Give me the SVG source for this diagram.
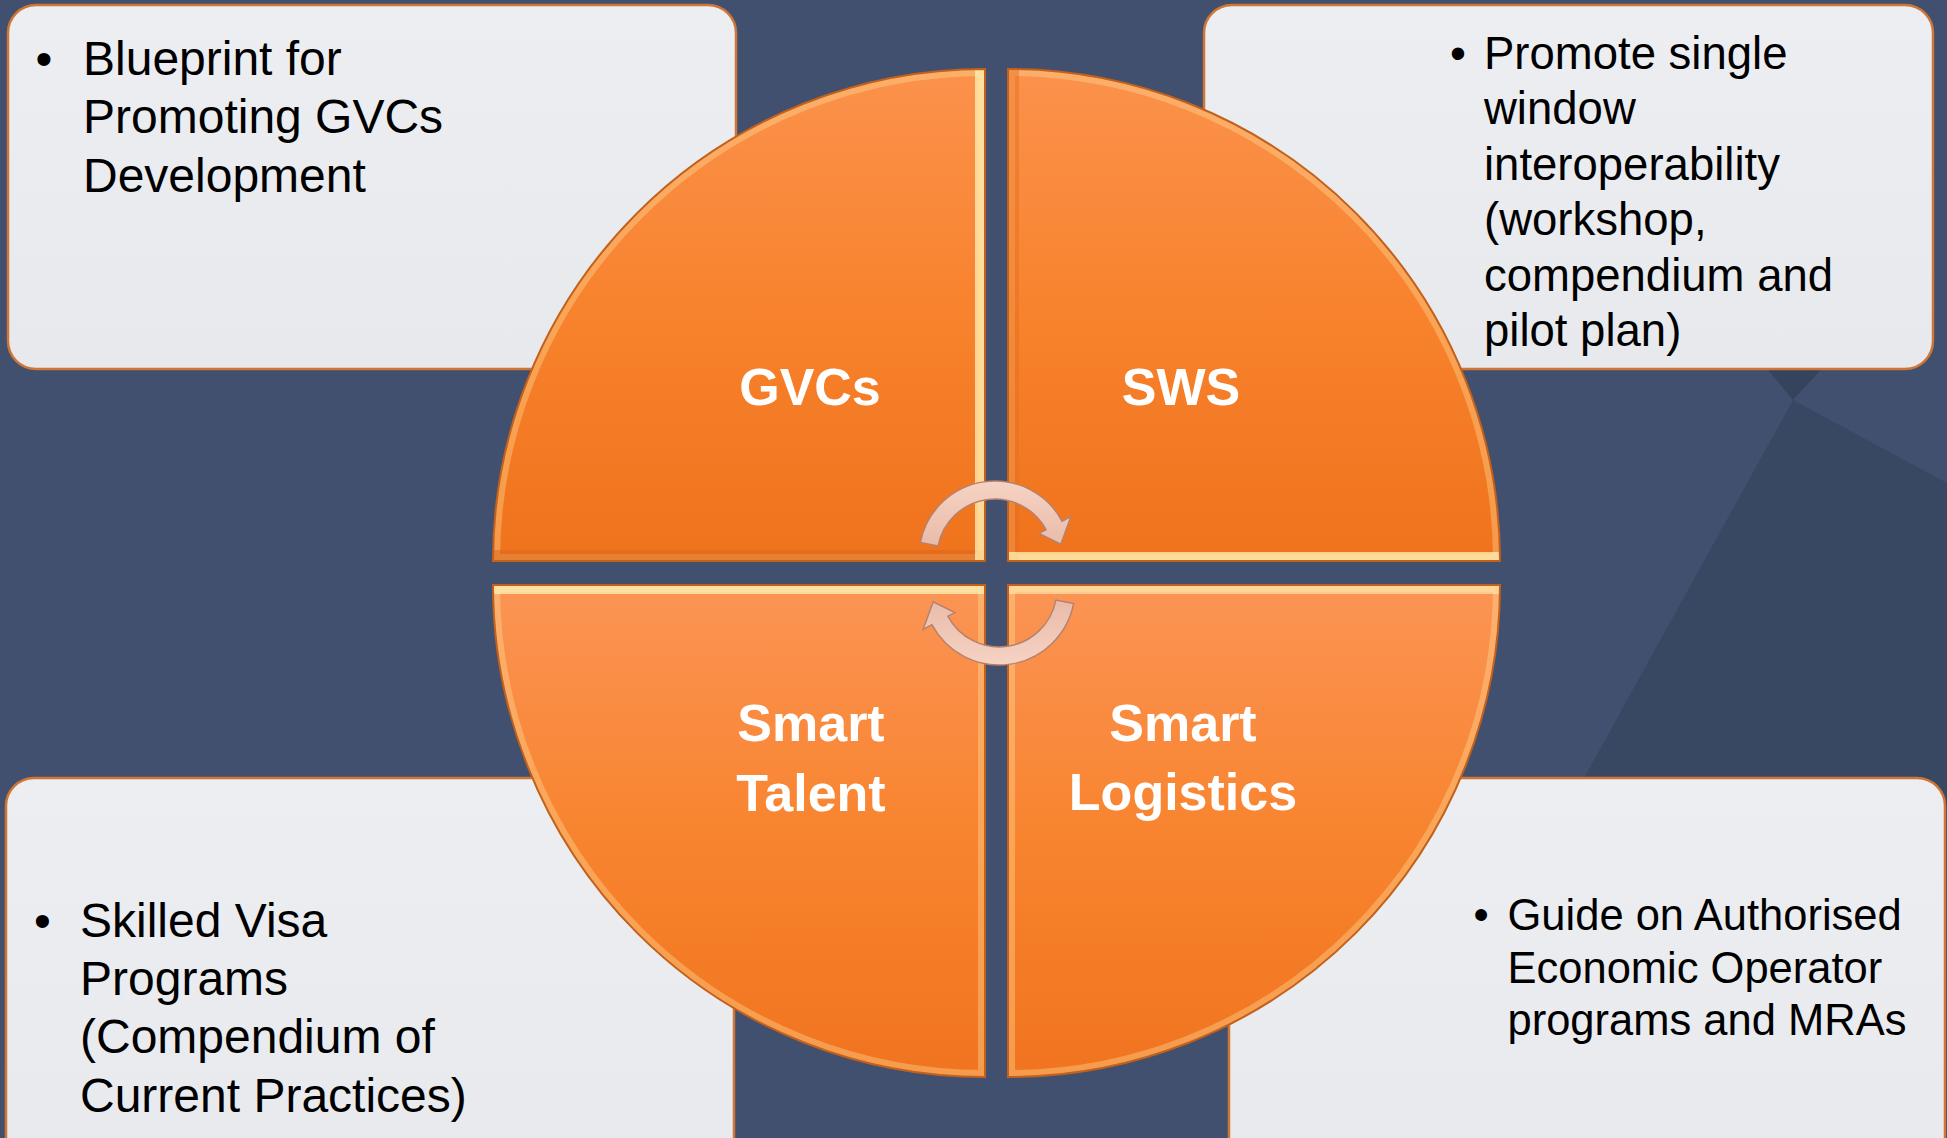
<svg xmlns="http://www.w3.org/2000/svg" width="1947" height="1138" viewBox="0 0 1947 1138">
<style>
.body{font-family:"Liberation Sans",Arial,sans-serif;fill:#000}
.lbl{font-family:"Liberation Sans",Arial,sans-serif;font-weight:bold;fill:#fff;text-anchor:middle;font-size:52px}
.box{fill:url(#gBox);stroke:#cf7536;stroke-width:2.5}
.edge{fill:none;stroke:#c2601c;stroke-width:2}
.hl{fill:none;stroke:#ffe4a4;stroke-width:14;opacity:0.35}
.arrow{fill:url(#gArr);stroke:#b4816f;stroke-width:1.4}
</style>
<defs>
<linearGradient id="gBox" x1="0" y1="0" x2="0" y2="1">
<stop offset="0" stop-color="#eceef1"/>
<stop offset="1" stop-color="#e7e9ed"/>
</linearGradient>
<linearGradient id="gTop" x1="0" y1="0" x2="0" y2="1">
<stop offset="0" stop-color="#fb924c"/>
<stop offset="0.5" stop-color="#f8822d"/>
<stop offset="1" stop-color="#f0721c"/>
</linearGradient>
<linearGradient id="gBot" x1="0" y1="0" x2="0" y2="1">
<stop offset="0" stop-color="#fb9455"/>
<stop offset="0.5" stop-color="#f8842f"/>
<stop offset="1" stop-color="#f1741f"/>
</linearGradient>
<linearGradient id="gArr" x1="0" y1="0" x2="0" y2="1">
<stop offset="0" stop-color="#f6d3c4"/>
<stop offset="1" stop-color="#e9bba9"/>
</linearGradient>
<path id="qTL" d="M985,561 L493,561 A492,492 0 0 1 985,69 Z"/>
<path id="qTR" d="M1008,561 L1008,69 A492,492 0 0 1 1500,561 Z"/>
<path id="qBL" d="M985,585 L985,1077 A492,492 0 0 1 493,585 Z"/>
<path id="qBR" d="M1008,585 L1500,585 A492,492 0 0 1 1008,1077 Z"/>
<clipPath id="cTL"><use href="#qTL"/></clipPath>
<clipPath id="cTR"><use href="#qTR"/></clipPath>
<clipPath id="cBL"><use href="#qBL"/></clipPath>
<clipPath id="cBR"><use href="#qBR"/></clipPath>
<path id="arr" d="M920.4,542.5 A76,76 0 0 1 1062.1,521.3 L1070.9,516.6 L1060.8,544.2 L1039.1,533.5 L1046.2,529.8 A58,58 0 0 0 938.1,545.9 Z"/>
</defs>

<g id="background">
<rect x="0" y="0" width="1947" height="1138" fill="#41506f"/>
<polygon points="1793,400 1947,483 1947,1138 1385,1138" fill="#394862"/>
<polygon points="1760,360 1830,360 1793,400" fill="#35435c"/>
</g>

<g id="box-gvcs">
<rect class="box" x="8" y="5" width="728" height="364" rx="28"/>
<text class="body" x="44" y="74.5" font-size="48" text-anchor="middle">•</text>
<text class="body" font-size="48"><tspan x="83" y="74.5">Blueprint for</tspan><tspan x="83" y="133">Promoting GVCs</tspan><tspan x="83" y="191.5">Development</tspan></text>
</g>

<g id="box-sws">
<rect class="box" x="1204" y="5" width="729" height="364" rx="28"/>
<text class="body" x="1458" y="68.5" font-size="45.5" text-anchor="middle">•</text>
<text class="body" font-size="45.5"><tspan x="1484" y="68.5">Promote single</tspan><tspan x="1484" y="124">window</tspan><tspan x="1484" y="179.5">interoperability</tspan><tspan x="1484" y="235">(workshop,</tspan><tspan x="1484" y="290.5">compendium and</tspan><tspan x="1484" y="346">pilot plan)</tspan></text>
</g>

<g id="box-talent">
<rect class="box" x="6" y="778" width="728" height="420" rx="28"/>
<text class="body" x="42.5" y="937" font-size="48" text-anchor="middle">•</text>
<text class="body" font-size="48"><tspan x="80" y="937">Skilled Visa</tspan><tspan x="80" y="995.2">Programs</tspan><tspan x="80" y="1053.4">(Compendium of</tspan><tspan x="80" y="1111.6">Current Practices)</tspan></text>
</g>

<g id="box-logistics">
<rect class="box" x="1229" y="778" width="716" height="420" rx="28"/>
<text class="body" x="1481" y="930" font-size="43.5" text-anchor="middle">•</text>
<text class="body" font-size="43.5"><tspan x="1507.5" y="930">Guide on Authorised</tspan><tspan x="1507.5" y="982.5">Economic Operator</tspan><tspan x="1507.5" y="1035">programs and MRAs</tspan></text>
</g>

<g id="quad-gvcs">
<use href="#qTL" fill="url(#gTop)"/>
<g clip-path="url(#cTL)">
<use href="#qTL" class="hl"/>
<rect x="493" y="550" width="492" height="11" fill="#d9661a" opacity="0.5"/>
<rect x="975" y="69" width="10" height="492" fill="#fff0b4" opacity="0.75"/>
</g>
<use href="#qTL" class="edge"/>
<text class="lbl" x="810" y="405">GVCs</text>
</g>

<g id="quad-sws">
<use href="#qTR" fill="url(#gTop)"/>
<g clip-path="url(#cTR)">
<use href="#qTR" class="hl"/>
<rect x="1008" y="69" width="11" height="492" fill="#e46d1c" opacity="0.45"/>
<rect x="1008" y="552" width="492" height="9" fill="#fff0b4" opacity="0.75"/>
</g>
<use href="#qTR" class="edge"/>
<text class="lbl" x="1181" y="405">SWS</text>
</g>

<g id="quad-talent">
<use href="#qBL" fill="url(#gBot)"/>
<g clip-path="url(#cBL)">
<use href="#qBL" class="hl"/>
<rect x="493" y="585" width="492" height="9" fill="#fff0b4" opacity="0.75"/>
</g>
<use href="#qBL" class="edge"/>
<text class="lbl"><tspan x="811" y="741">Smart</tspan><tspan x="811" y="811">Talent</tspan></text>
</g>

<g id="quad-logistics">
<use href="#qBR" fill="url(#gBot)"/>
<g clip-path="url(#cBR)">
<use href="#qBR" class="hl"/>
<rect x="1008" y="585" width="492" height="9" fill="#fff0b4" opacity="0.6"/>
</g>
<use href="#qBR" class="edge"/>
<text class="lbl"><tspan x="1183" y="741">Smart</tspan><tspan x="1183" y="810">Logistics</tspan></text>
</g>

<g id="connectors">
<use href="#arr" class="arrow"/>
<use href="#arr" class="arrow" transform="rotate(180 997 573)"/>
</g>
</svg>
